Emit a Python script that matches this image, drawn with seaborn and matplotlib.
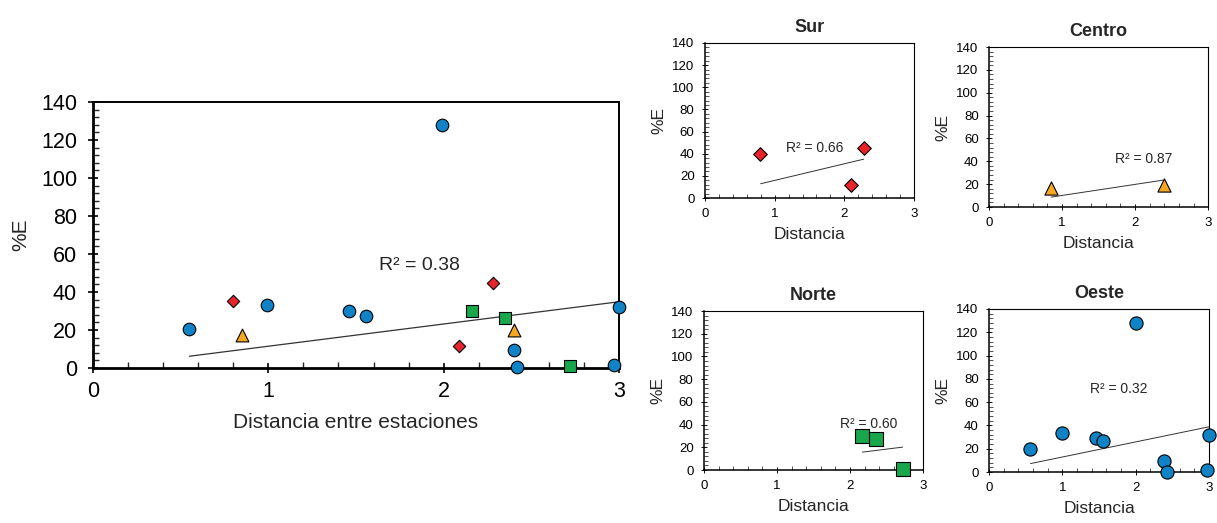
import numpy as np
import pandas as pd
import matplotlib
matplotlib.use("Agg")
import matplotlib.pyplot as plt
from matplotlib.ticker import MultipleLocator
import seaborn as sns

sns.set_style("ticks")
plt.rcParams["font.family"] = ["Liberation Sans", "DejaVu Sans"]

# ---------------- data (main chart: all stations) ----------------
oeste_x = [0.55, 0.99, 1.46, 1.56, 1.99, 2.40, 2.42, 2.97, 3.00]
oeste_y = [20.3, 33.2, 30.0, 27.4, 128.0, 9.5, 0.4, 1.4, 32.0]
sur_x = [0.80, 2.09, 2.28]
sur_y = [35.0, 11.7, 44.8]
centro_x = [0.85, 2.40]
centro_y = [17.5, 20.0]
norte_x = [2.16, 2.35, 2.72]
norte_y = [30.0, 26.3, 1.1]

# subplot readings (per region panel)
sur_sub_x = [0.79, 2.10, 2.28]
sur_sub_y = [39.6, 12.0, 45.0]
centro_sub_x = [0.85, 2.40]
centro_sub_y = [16.8, 19.5]
norte_sub_x = [2.16, 2.35, 2.72]
norte_sub_y = [29.9, 26.9, 0.9]
oeste_sub_x = [0.56, 0.99, 1.46, 1.56, 2.00, 2.39, 2.42, 2.97, 3.00]
oeste_sub_y = [19.5, 33.1, 29.6, 26.7, 127.9, 9.5, 0.0, 1.4, 31.6]

# trend lines: [x_start, x_end, slope, intercept]
trend_all = [0.55, 3.00, 11.7, -0.25]
trend_sur = [0.80, 2.28, 15.0, 0.9]
trend_centro = [0.85, 2.40, 9.67, 0.45]
trend_norte = [2.17, 2.72, 8.0, -1.6]
trend_oeste = [0.565, 3.00, 12.98, -0.1]

r2_all = "R² = 0.38"
r2_sur = "R² = 0.66"
r2_centro = "R² = 0.87"
r2_norte = "R² = 0.60"
r2_oeste = "R² = 0.32"

x_ticks = [0, 1, 2, 3]
y_ticks = [0, 20, 40, 60, 80, 100, 120, 140]

BLUE = "#0F83C6"
RED = "#E8232A"
ORANGE = "#F7A823"
GREEN = "#18A74A"

fig = plt.figure(figsize=(12.17, 5.23), dpi=100)


def style(ax, big):
    ax.set_xlim(0, 3)
    ax.set_ylim(0, 140)
    ax.set_xticks(x_ticks)
    ax.set_yticks(y_ticks)
    ax.xaxis.set_minor_locator(MultipleLocator(0.2))
    ax.yaxis.set_minor_locator(MultipleLocator(4))
    if big:
        lab, maj, mnr, w_main, w_side, padx, pady = 15.5, 7, 4, 2.0, 1.4, 6, 8
    else:
        lab, maj, mnr, w_main, w_side, padx, pady = 9.5, 5, 3, 1.1, 0.8, 5, 5
    ax.tick_params(axis="x", which="major", direction="inout", length=maj,
                   width=w_main * 0.6, labelsize=lab, pad=padx, colors="black")
    ax.tick_params(axis="y", which="major", direction="inout", length=maj,
                   width=w_main * 0.6, labelsize=lab, pad=pady, colors="black")
    ax.tick_params(axis="both", which="minor", direction="in", length=mnr,
                   width=w_main * 0.5)
    for s in ["left", "bottom"]:
        ax.spines[s].set_linewidth(w_main)
        ax.spines[s].set_color("black")
    for s in ["top", "right"]:
        ax.spines[s].set_visible(True)
        ax.spines[s].set_linewidth(w_side)
        ax.spines[s].set_color("black")
    ax.set_facecolor("white")


def scatter(ax, xs, ys, marker, color, s):
    sns.scatterplot(x=xs, y=ys, marker=marker, color=color, s=s,
                    edgecolor="black", linewidth=0.8, ax=ax,
                    clip_on=False, zorder=4, legend=False)


def trend(ax, t, lw):
    xs = np.array([t[0], t[1]])
    ys = t[2] * xs + t[3]
    sns.lineplot(x=xs, y=ys, color="#333333", linewidth=lw, ax=ax,
                 zorder=3, legend=False)


# ---------------- main chart ----------------
ax = fig.add_axes([0.0764, 0.2964, 0.4322, 0.5086])
style(ax, True)
trend(ax, trend_all, 0.9)
scatter(ax, oeste_x, oeste_y, "o", BLUE, 82)
scatter(ax, sur_x, sur_y, "D", RED, 40)
scatter(ax, centro_x, centro_y, "^", ORANGE, 85)
scatter(ax, norte_x, norte_y, "s", GREEN, 80)
ax.text(1.86, 54, r2_all, fontsize=14, ha="center", va="center")
ax.set_xlabel("Distancia entre estaciones", fontsize=15, labelpad=8)
ax.set_ylabel("%E", fontsize=15, labelpad=8)

# ---------------- small panels ----------------
panels = [
    ([0.5793, 0.6214, 0.1717, 0.2964], "Sur", sur_sub_x, sur_sub_y, "D", RED, 48, trend_sur, r2_sur, (1.58, 45)),
    ([0.8127, 0.6042, 0.1800, 0.3059], "Centro", centro_sub_x, centro_sub_y, "^", ORANGE, 90, trend_centro, r2_centro, (2.12, 42)),
    ([0.5785, 0.1013, 0.1800, 0.3040], "Norte", norte_sub_x, norte_sub_y, "s", GREEN, 90, trend_norte, r2_norte, (2.26, 40.5)),
    ([0.8127, 0.0975, 0.1808, 0.3117], "Oeste", oeste_sub_x, oeste_sub_y, "o", BLUE, 90, trend_oeste, r2_oeste, (1.77, 71)),
]
for rect, title, xs, ys, mk, col, sz, tr, r2, tpos in panels:
    a = fig.add_axes(rect)
    style(a, False)
    trend(a, tr, 0.7)
    scatter(a, xs, ys, mk, col, sz)
    a.text(tpos[0], tpos[1], r2, fontsize=10, ha="center", va="center")
    a.set_title(title, fontsize=13, fontweight="bold", pad=8)
    a.set_xlabel("Distancia", fontsize=12.5, labelpad=5)
    a.set_ylabel("%E", fontsize=12.5, labelpad=4)

fig.savefig("out.png", dpi=100, facecolor="white")
